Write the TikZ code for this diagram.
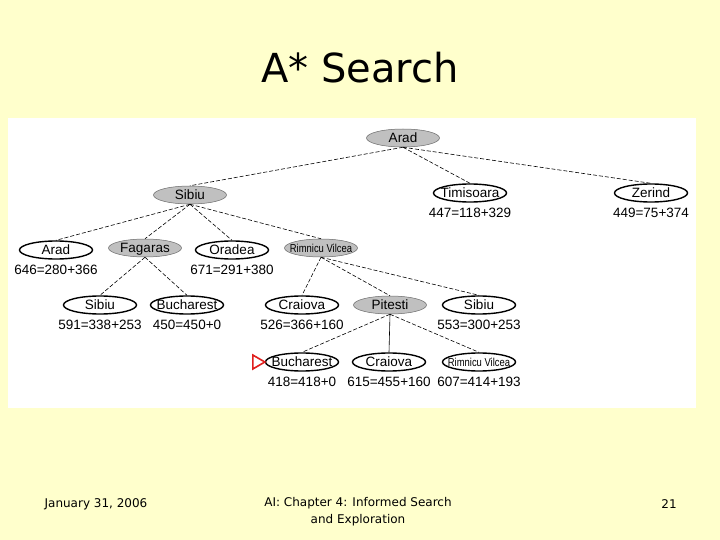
\documentclass[tikz,border=0pt]{standalone}
\usepackage{fontspec}
\setmainfont{Liberation Sans}
\newfontfamily\slidefont{DejaVu Sans}
\usepackage{graphicx}
\usetikzlibrary{shapes.geometric}
\definecolor{slide}{HTML}{FFFFCC}
\definecolor{shade}{HTML}{C0C0C0}
\definecolor{rim}{HTML}{6A6A6A}
\definecolor{goal}{HTML}{E0201E}
% zero-width city names, so every ellipse keeps one size
\newcommand\nm[1]{\makebox[0pt]{#1}}
\newcommand\rv{\nm{\fontsize{11.5}{13}\selectfont\scalebox{0.82}[1]{Rimnicu Vilcea}}}
\tikzset{
  city/.style={ellipse,inner sep=0pt,minimum width=73pt,minimum height=18pt,
    text height=9.6pt,text depth=0pt,font=\fontsize{13.5}{15}\selectfont},
  open/.style={city,draw=black,line width=1.4pt,fill=white},
  closed/.style={city,draw=rim,line width=0.5pt,fill=shade},
  fval/.style={font=\fontsize{13.5}{15}\selectfont,inner sep=0pt},
  edge/.style={line width=0.6pt,dash pattern=on 4pt off 2pt},
  foot/.style={font=\slidefont\fontsize{12}{17}\selectfont,align=center},
}
\begin{document}
\begin{tikzpicture}[x=1pt,y=-1pt]
  \fill[slide] (0,0) rectangle (720,540);
  \useasboundingbox (0,0) rectangle (720,540);
  \fill[white] (8,118) rectangle (696,408);
  \node[font=\slidefont\fontsize{40}{48}\selectfont] (title) at (360,68) {A* Search};
  % search tree
  \node[closed] (root) at (403,138) {\nm{Arad}};
  \node[closed] (sib) at (190,195) {\nm{Sibiu}};
  \node[open] (tim) at (470,193) {\nm{Timisoara}};
  \node[open] (zer) at (651,193) {\nm{Zerind}};
  \node[open] (ara) at (56,250) {\nm{Arad}};
  \node[closed] (fag) at (145,248) {\nm{Fagaras}};
  \node[open] (ora) at (232,250) {\nm{Oradea}};
  \node[closed] (rim) at (321,248) {\rv};
  \node[open] (sibA) at (100,305) {\nm{Sibiu}};
  \node[open] (bucA) at (187,305) {\nm{Bucharest}};
  \node[open] (craA) at (302,305) {\nm{Craiova}};
  \node[closed] (pit) at (390,305) {\nm{Pitesti}};
  \node[open] (sibB) at (479,305) {\nm{Sibiu}};
  \node[open] (bucB) at (302,362) {\nm{Bucharest}};
  \node[open] (craB) at (389,362) {\nm{Craiova}};
  \node[open] (rimB) at (479,362) {\rv};
  % f = g + h
  \foreach \n/\f in {tim/447=118+329, zer/449=75+374, ara/646=280+366, ora/671=291+380,
      sibA/591=338+253, bucA/450=450+0, craA/526=366+160, sibB/553=300+253,
      bucB/418=418+0, craB/615=455+160, rimB/607=414+193}
    \node[fval] (\n f) at ([yshift=-19.5pt]\n) {\f};
  \foreach \p/\c in {root/sib, root/tim, root/zer, sib/ara, sib/fag, sib/ora, sib/rim,
      fag/sibA, fag/bucA, rim/craA, rim/pit, rim/sibB, pit/bucB, pit/rimB}
    \draw[edge] (\p.south) -- (\c.north);
  \draw[line width=0.6pt] (pit.south) -- (craB.north);
  \draw[goal,line width=1.6pt,line join=miter] (bucB.west) -- ++(-12,-7) -- ++(0,14) -- cycle;
  % footer
  \node[foot] (date) at (96,504) {January 31, 2006};
  \node[foot] (chap) at (358,512) {AI: Chapter 4: Informed Search\\and Exploration};
  \node[foot] (page) at (669,504) {21};
\end{tikzpicture}
\end{document}
